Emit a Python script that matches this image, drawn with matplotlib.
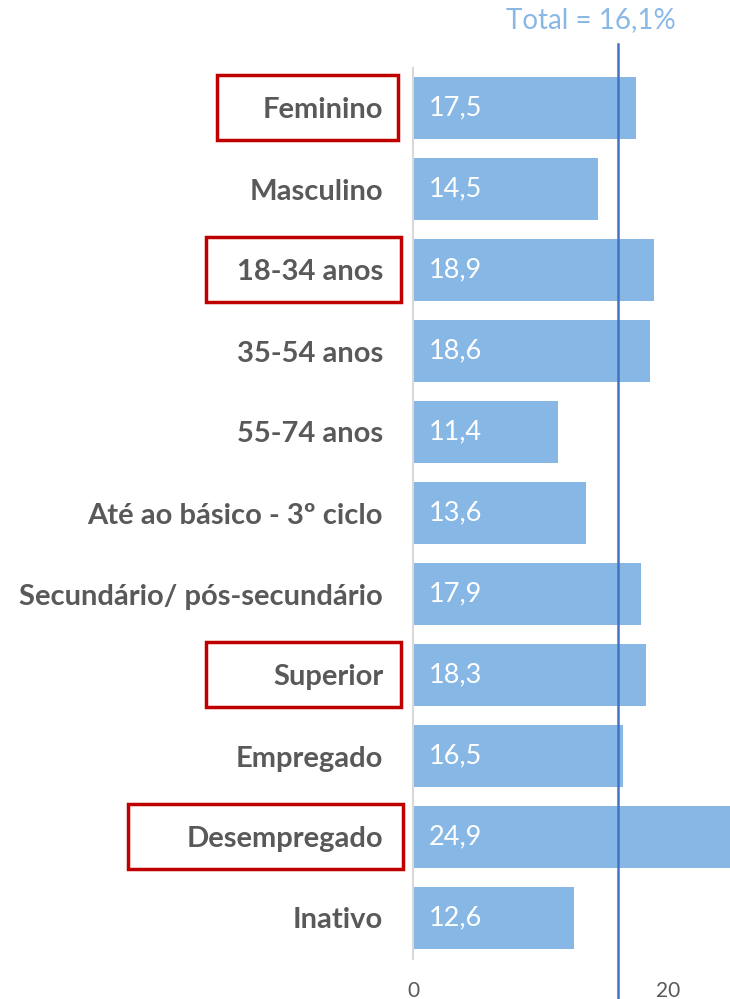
import matplotlib
matplotlib.use("Agg")
import matplotlib.pyplot as plt
from matplotlib.patches import Rectangle
import matplotlib.transforms as mtransforms

categories = ["Feminino", "Masculino", "18-34 anos", "35-54 anos", "55-74 anos",
              "Até ao básico - 3º ciclo", "Secundário/ pós-secundário", "Superior",
              "Empregado", "Desempregado", "Inativo"]
values = [17.5, 14.5, 18.9, 18.6, 11.4, 13.6, 17.9, 18.3, 16.5, 24.9, 12.6]
value_labels = ["17,5", "14,5", "18,9", "18,6", "11,4", "13,6", "17,9", "18,3", "16,5", "24,9", "12,6"]
total = 16.1
total_label = "Total = 16,1%"
highlighted = ["Feminino", "18-34 anos", "Superior", "Desempregado"]
xticks = [0, 20]
xtick_labels = ["0", "20"]

plt.rcParams['font.family'] = ['Lato', 'DejaVu Sans']

W, H = 730, 999
fig = plt.figure(figsize=(W / 100, H / 100), dpi=100)
ax_left, ax_top, ax_bottom = 413, 67.5, 958.5
ax = fig.add_axes([ax_left / W, 1 - ax_bottom / H, 1 - ax_left / W, (ax_bottom - ax_top) / H])

y = list(range(len(categories)))
ax.barh(y, values, height=0.76, color="#87b7e5", zorder=2)
ax.set_ylim(len(categories) - 0.5, -0.5)
ax.set_xlim(0, (W - ax_left) / 12.75)

for yi, lab in zip(y, value_labels):
    ax.text(1.25, yi, lab, color="white", fontsize=19.5, va="center", ha="left", zorder=3)

ax.set_yticks(y)
ax.set_yticklabels(categories, fontsize=21, fontweight="bold", color="#595959")
ax.tick_params(axis="y", length=0, pad=21.5)
ax.set_xticks(xticks)
ax.set_xticklabels(xtick_labels, fontsize=15, color="#595959")
ax.tick_params(axis="x", length=0, pad=16)

for s in ["top", "right", "bottom"]:
    ax.spines[s].set_visible(False)
ax.spines["left"].set_color("#d9d9d9")
ax.spines["left"].set_linewidth(1.5)

trans = mtransforms.blended_transform_factory(ax.transData, ax.transAxes)
ax.plot([total, total], [-0.045, 1.026], transform=trans, color="#4472c4",
        lw=1.8, clip_on=False, zorder=4)
ax.text(13.96, 1.053, total_label, transform=trans, color="#8ab8e6",
        fontsize=20, ha="center", va="center")

# red highlight boxes (figure pixel layout)
box_x = {"Feminino": (217, 398), "18-34 anos": (206, 401),
         "Superior": (206, 401), "Desempregado": (128, 403)}
ytrans = mtransforms.blended_transform_factory(fig.transFigure, ax.transData)
for name in highlighted:
    i = categories.index(name)
    x0, x1 = box_x[name]
    rect = Rectangle((x0 / W, i - 0.41), (x1 - x0) / W, 0.81, transform=ytrans,
                     fill=False, edgecolor="#c00000", lw=2.5, clip_on=False)
    fig.add_artist(rect)

fig.savefig("out.png", dpi=100)
